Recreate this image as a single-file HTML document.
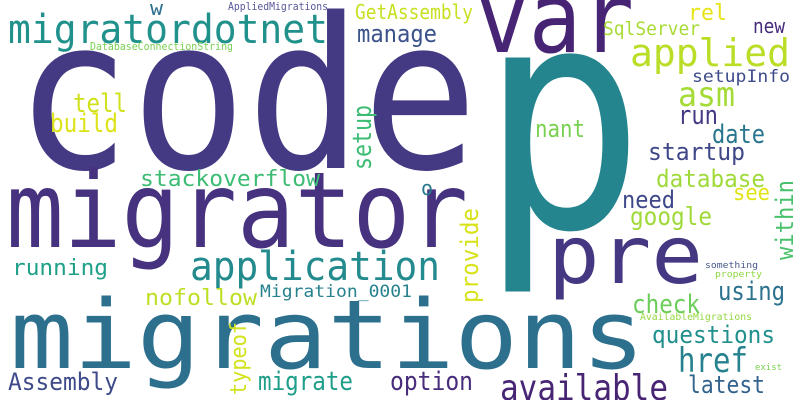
<!DOCTYPE html>
<html><head><meta charset="utf-8"><style>
html,body{margin:0;padding:0;background:#fff;}
svg{display:block;}
text{font-family:"DejaVu Sans Mono","Liberation Mono",monospace;}
</style></head><body>
<svg width="800" height="400" viewBox="0 0 800 400" xmlns="http://www.w3.org/2000/svg">
<rect width="800" height="400" fill="#fff"/>
<g>
<text x="15" y="168" font-size="210" textLength="463" lengthAdjust="spacingAndGlyphs" fill="#443983">code</text>
<text x="480" y="227" font-size="310" textLength="165" lengthAdjust="spacingAndGlyphs" fill="#25858e">p</text>
<text x="476" y="52" font-size="98" textLength="158" lengthAdjust="spacingAndGlyphs" fill="#482475">var</text>
<text x="6" y="247" font-size="105" textLength="462" lengthAdjust="spacingAndGlyphs" fill="#46327e">migrator</text>
<text x="548" y="283" font-size="80" textLength="155" lengthAdjust="spacingAndGlyphs" fill="#453781">pre</text>
<text x="10" y="368" font-size="95" textLength="635" lengthAdjust="spacingAndGlyphs" fill="#2d708e">migrations</text>
<text x="8" y="43" font-size="40" textLength="320" lengthAdjust="spacingAndGlyphs" fill="#21918c">migratordotnet</text>
<text x="150" y="15" font-size="20" textLength="13" lengthAdjust="spacingAndGlyphs" fill="#2c728e">w</text>
<text x="228" y="10" font-size="11" textLength="100" lengthAdjust="spacingAndGlyphs" fill="#59589a">AppliedMigrations</text>
<text x="355" y="19" font-size="20" textLength="118" lengthAdjust="spacingAndGlyphs" fill="#c8e020">GetAssembly</text>
<text x="357" y="42" font-size="24" textLength="80" lengthAdjust="spacingAndGlyphs" fill="#3b528b">manage</text>
<text x="90" y="50" font-size="11" textLength="143" lengthAdjust="spacingAndGlyphs" fill="#7ad151">DatabaseConnectionString</text>
<text x="73" y="112" font-size="26" textLength="54" lengthAdjust="spacingAndGlyphs" fill="#d0e11c">tell</text>
<text x="50" y="132" font-size="26" textLength="68" lengthAdjust="spacingAndGlyphs" fill="#dde318">build</text>
<text x="140" y="186" font-size="22" textLength="180" lengthAdjust="spacingAndGlyphs" fill="#3dbc74">stackoverflow</text>
<text x="421" y="195" font-size="20" textLength="12" lengthAdjust="spacingAndGlyphs" fill="#2a788e">o</text>
<text x="535" y="137" font-size="24" textLength="50" lengthAdjust="spacingAndGlyphs" fill="#7ad151">nant</text>
<text x="12" y="275" font-size="22" textLength="96" lengthAdjust="spacingAndGlyphs" fill="#1fa088">running</text>
<text x="190" y="280" font-size="40" textLength="250" lengthAdjust="spacingAndGlyphs" fill="#238a8d">application</text>
<text x="260" y="297" font-size="17" textLength="152" lengthAdjust="spacingAndGlyphs" fill="#26828e">Migration_0001</text>
<text x="145" y="305" font-size="22" textLength="112" lengthAdjust="spacingAndGlyphs" fill="#bddf26">nofollow</text>
<text x="632" y="313" font-size="26" textLength="68" lengthAdjust="spacingAndGlyphs" fill="#6ccd5a">check</text>
<text x="640" y="320" font-size="10" textLength="112" lengthAdjust="spacingAndGlyphs" fill="#95d840">AvailableMigrations</text>
<text x="705" y="268" font-size="9" textLength="53" lengthAdjust="spacingAndGlyphs" fill="#46588a">something</text>
<text x="715" y="277" font-size="9" textLength="47" lengthAdjust="spacingAndGlyphs" fill="#8fd744">property</text>
<text x="718" y="300" font-size="26" textLength="67" lengthAdjust="spacingAndGlyphs" fill="#2c718e">using</text>
<text x="652" y="343" font-size="24" textLength="123" lengthAdjust="spacingAndGlyphs" fill="#21908d">questions</text>
<text x="678" y="372" font-size="34" textLength="70" lengthAdjust="spacingAndGlyphs" fill="#26828e">href</text>
<text x="688" y="393" font-size="24" textLength="77" lengthAdjust="spacingAndGlyphs" fill="#33638d">latest</text>
<text x="755" y="370" font-size="9" textLength="27" lengthAdjust="spacingAndGlyphs" fill="#7ad151">exist</text>
<text x="500" y="400" font-size="36" textLength="168" lengthAdjust="spacingAndGlyphs" fill="#482475">available</text>
<text x="390" y="390" font-size="26" textLength="83" lengthAdjust="spacingAndGlyphs" fill="#472d7b">option</text>
<text x="258" y="390" font-size="26" textLength="95" lengthAdjust="spacingAndGlyphs" fill="#1f9e89">migrate</text>
<text x="8" y="390" font-size="24" textLength="110" lengthAdjust="spacingAndGlyphs" fill="#3e4a89">Assembly</text>
<text x="630" y="66" font-size="38" textLength="160" lengthAdjust="spacingAndGlyphs" fill="#bade28">applied</text>
<text x="688" y="20" font-size="22" textLength="39" lengthAdjust="spacingAndGlyphs" fill="#e7e419">rel</text>
<text x="603" y="35" font-size="19" textLength="97" lengthAdjust="spacingAndGlyphs" fill="#a8db34">SqlServer</text>
<text x="753" y="33" font-size="20" textLength="32" lengthAdjust="spacingAndGlyphs" fill="#472c7a">new</text>
<text x="692" y="82" font-size="17" textLength="98" lengthAdjust="spacingAndGlyphs" fill="#3e4c8a">setupInfo</text>
<text x="678" y="106" font-size="34" textLength="57" lengthAdjust="spacingAndGlyphs" fill="#a5db36">asm</text>
<text x="678" y="124" font-size="26" textLength="40" lengthAdjust="spacingAndGlyphs" fill="#443a83">run</text>
<text x="712" y="143" font-size="26" textLength="53" lengthAdjust="spacingAndGlyphs" fill="#2a768e">date</text>
<text x="648" y="160" font-size="24" textLength="97" lengthAdjust="spacingAndGlyphs" fill="#3f4788">startup</text>
<text x="656" y="187" font-size="24" textLength="109" lengthAdjust="spacingAndGlyphs" fill="#9fda3a">database</text>
<text x="733" y="200" font-size="22" textLength="37" lengthAdjust="spacingAndGlyphs" fill="#e2e418">see</text>
<text x="622" y="208" font-size="24" textLength="53" lengthAdjust="spacingAndGlyphs" fill="#3f4889">need</text>
<text x="630" y="225" font-size="25" textLength="82" lengthAdjust="spacingAndGlyphs" fill="#a0da39">google</text>
<text x="0" y="0" transform="translate(371,170) rotate(-90)" font-size="26" textLength="65" lengthAdjust="spacingAndGlyphs" fill="#3dbc74">setup</text>
<text x="0" y="0" transform="translate(478,303) rotate(-90)" font-size="24" textLength="95" lengthAdjust="spacingAndGlyphs" fill="#d8e219">provide</text>
<text x="0" y="0" transform="translate(246,395) rotate(-90)" font-size="22" textLength="73" lengthAdjust="spacingAndGlyphs" fill="#d2e21b">typeof</text>
<text x="0" y="0" transform="translate(793,260) rotate(-90)" font-size="24" textLength="80" lengthAdjust="spacingAndGlyphs" fill="#4ac16d">within</text>
</g>
</svg>
</body></html>
